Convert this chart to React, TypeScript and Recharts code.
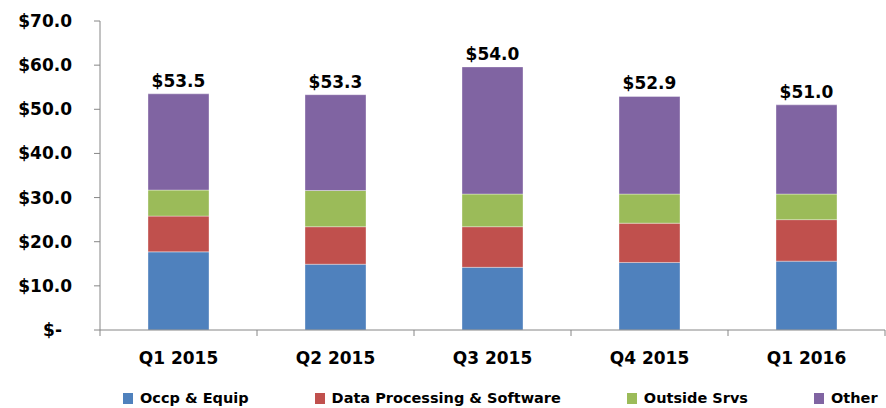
import { BarChart, Bar, XAxis, YAxis, Legend, LabelList } from "recharts";

const quarters = ["Q1 2015", "Q2 2015", "Q3 2015", "Q4 2015", "Q1 2016"];
const occpEquip = [17.7, 14.9, 14.2, 15.3, 15.6];
const dataProcessing = [8.1, 8.5, 9.2, 8.9, 9.4];
const outsideSrvs = [5.9, 8.2, 7.4, 6.6, 5.8];
const other = [21.8, 21.7, 28.8, 22.1, 20.2];
const totalLabels = ["$53.5", "$53.3", "$54.0", "$52.9", "$51.0"];
const yTicks = [0, 10, 20, 30, 40, 50, 60, 70];

const SERIES = [
  { key: "occp", name: "Occp & Equip", color: "#4F81BD" },
  { key: "dp", name: "Data Processing & Software", color: "#C0504D" },
  { key: "os", name: "Outside Srvs", color: "#9BBB59" },
  { key: "other", name: "Other", color: "#8064A2" },
];

const data = quarters.map((q, i) => ({
  quarter: q,
  occp: occpEquip[i],
  dp: dataProcessing[i],
  os: outsideSrvs[i],
  other: other[i],
  label: totalLabels[i],
}));

const W = 886;
const H = 408;
const MARGIN = { top: 21, right: 1, left: 0, bottom: 0 };
const Y_WIDTH = 100;
const AXIS = "#868686";
const FONT = "'DejaVu Sans', sans-serif";
const band = (W - MARGIN.left - MARGIN.right - Y_WIDTH) / quarters.length;

function XTick(props: any) {
  const { x, y, payload, index } = props;
  return (
    <g>
      <line x1={x - band / 2} x2={x - band / 2} y1={y} y2={y + 6} stroke={AXIS} />
      {index === quarters.length - 1 && (
        <line x1={x + band / 2} x2={x + band / 2} y1={y} y2={y + 6} stroke={AXIS} />
      )}
      <text
        x={x}
        y={y + 28}
        textAnchor="middle"
        dominantBaseline="central"
        fontFamily={FONT}
        fontWeight="bold"
        fontSize={17}
        fill="#000"
      >
        {payload.value}
      </text>
    </g>
  );
}

function YTick(props: any) {
  const { x, y, payload } = props;
  const v = payload.value as number;
  return (
    <text
      x={v === 0 ? x - 10 : x}
      y={y}
      textAnchor="end"
      dominantBaseline="central"
      fontFamily={FONT}
      fontWeight="bold"
      fontSize={17}
      fill="#000"
    >
      {v === 0 ? "$-" : `$${v.toFixed(1)}`}
    </text>
  );
}

function LegendContent() {
  return (
    <div
      style={{
        height: 38,
        boxSizing: "border-box",
        paddingTop: 18,
        paddingLeft: 123,
        display: "flex",
        alignItems: "center",
        fontFamily: FONT,
        fontWeight: "bold",
        fontSize: 14.5,
        lineHeight: "16px",
        whiteSpace: "nowrap",
      }}
    >
      {SERIES.map((s) => (
        <div key={s.key} style={{ display: "flex", alignItems: "center", marginRight: 66 }}>
          <span style={{ width: 10, height: 11, background: s.color, marginRight: 7, display: "inline-block" }} />
          <span>{s.name}</span>
        </div>
      ))}
    </div>
  );
}

export default function App() {
  return (
    <div style={{ position: "absolute", left: 0, top: 0, width: W, height: H, background: "#fff", overflow: "hidden" }}>
      <BarChart width={W} height={H} data={data} margin={MARGIN} barSize={61}>
        <XAxis
          dataKey="quarter"
          height={40}
          axisLine={{ stroke: AXIS }}
          tickLine={false}
          tickSize={0}
          tickMargin={0}
          tick={<XTick />}
          interval={0}
        />
        <YAxis
          width={Y_WIDTH}
          domain={[0, 70]}
          ticks={yTicks}
          interval={0}
          axisLine={{ stroke: AXIS }}
          tickLine={{ stroke: AXIS }}
          tickSize={6}
          tickMargin={22}
          tick={<YTick />}
        />
        <Legend verticalAlign="bottom" wrapperStyle={{ left: 0, width: W }} content={<LegendContent />} />
        {SERIES.map((s, i) => (
          <Bar
            key={s.key}
            dataKey={s.key}
            name={s.name}
            stackId="a"
            fill={s.color}
            stroke="#ffffff"
            strokeOpacity={0.35}
            strokeWidth={1}
            isAnimationActive={false}
          >
            {i === SERIES.length - 1 && (
              <LabelList
                dataKey="label"
                position="top"
                offset={7}
                fontFamily={FONT}
                fontWeight="bold"
                fontSize={17}
                fill="#000"
              />
            )}
          </Bar>
        ))}
      </BarChart>
    </div>
  );
}
